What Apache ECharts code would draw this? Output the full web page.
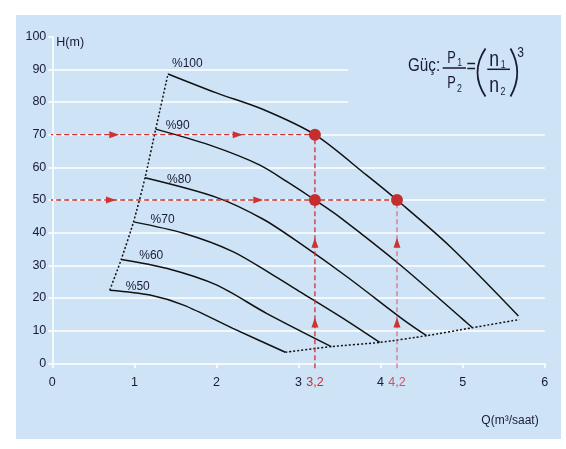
<!DOCTYPE html>
<html>
<head>
<meta charset="UTF-8">
<style>
  body { margin: 0; background: linear-gradient(to right, #eaf2fb 0, #f7fafe 20px, #fff 260px); }
  #panel { position: absolute; left: 16px; top: 15px; width: 545px; height: 424px; background: #cee4f6; }
  #chart { position: absolute; left: 0; top: 0; width: 566px; height: 449px; }
</style>
</head>
<body>
<div id="panel"></div>
<div id="chart"></div>
<script src="https://cdn.jsdelivr.net/npm/echarts@6/dist/echarts.min.js"></script>
<script>
// pump curves, [Q m3/h, H m]
var speedLabels = ['%100', '%90', '%80', '%70', '%60', '%50'];
var curve100 = [[1.41, 88.6], [2.0, 82.8], [2.57, 77.7], [3.2, 70], [3.83, 57.6], [4.2, 50], [4.85, 35.7], [5.68, 14.5]];
var curve90 = [[1.26, 71.7], [1.92, 66.8], [2.53, 60.7], [2.86, 55.6], [3.2, 50], [3.51, 44.6], [4.24, 30.1], [5.01, 13.3], [5.12, 10.9]];
var curve80 = [[1.13, 56.8], [2.0, 50.8], [2.57, 44.1], [3.02, 36.7], [3.59, 26.5], [4.28, 13.3], [4.56, 8.45]];
var curve70 = [[0.99, 43.3], [1.6, 39.8], [2.2, 34.2], [2.69, 27.0], [3.02, 21.9], [3.51, 14.3], [3.99, 6.4]];
var curve60 = [[0.84, 31.8], [1.39, 29.1], [2.0, 24.0], [2.61, 15.3], [3.4, 5.1]];
var curve50 = [[0.7, 22.4], [1.19, 20.9], [1.6, 17.8], [2.2, 10.7], [2.84, 3.4]];
var leftLimit = [[0.7, 22.4], [0.84, 31.8], [0.99, 43.3], [1.13, 56.8], [1.26, 71.7], [1.41, 88.6]];
var bottomLimit = [[2.84, 3.4], [3.4, 5.1], [3.99, 6.4], [4.56, 8.45], [5.12, 10.9], [5.69, 13.4]];

// example reading
var guide70 = [[-0.05, 70], [3.2, 70]];
var guide50 = [[-0.05, 50], [4.2, 50]];
var guideQ32 = [[3.2, -1.5], [3.2, 70]];
var guideQ42 = [[4.2, -1.5], [4.2, 50]];
var arrowsRight = [[0.755, 70], [2.26, 70], [0.715, 50], [2.51, 50]];
var arrowsUp = [[3.2, 36.9], [3.2, 12.5], [4.2, 36.9], [4.2, 12.5]];
var dutyPoints = [[3.2, 70], [3.2, 50], [4.2, 50]];
var refFlows = [3.2, 4.2];
var refLabels = ['3,2', '4,2'];

var gridFull = [10, 20, 30, 40, 50, 60, 70];
var gridShort = [80, 90];
var gridShortEnd = 3.6;

var FONT = '"Liberation Sans", Arial, sans-serif';
var INK = '#1a1a33';
var RED = '#cc3333';

var curves = [curve100, curve90, curve80, curve70, curve60, curve50];
var labelOffsets = [[4, -10], [10, -3], [22, 1.5], [17, -2.5], [18, -3.5], [16, -3]];

var series = [];

var gridLines = [];
gridFull.forEach(function (v) { gridLines.push([{ coord: [0, v] }, { coord: [6, v] }]); });
gridShort.forEach(function (v) { gridLines.push([{ coord: [0, v] }, { coord: [gridShortEnd, v] }]); });
series.push({
    type: 'line', data: [], z: 1, silent: true,
    markLine: {
        silent: true, symbol: 'none', animation: false, z: 1,
        label: { show: false },
        emphasis: { disabled: true },
        lineStyle: { color: '#ffffff', width: 1.5, type: 'solid' },
        data: gridLines
    }
});

curves.forEach(function (c, k) {
    series.push({
        name: speedLabels[k],
        type: 'line',
        smooth: 0.3,
        symbol: 'circle', symbolSize: 0, showSymbol: true, showAllSymbol: true,
        lineStyle: { color: '#111111', width: 1.5 },
        itemStyle: { color: '#111111' },
        data: c.map(function (p, i) {
            if (i !== 0) return p;
            return {
                value: p,
                label: {
                    show: true, formatter: speedLabels[k], position: 'right', distance: 0,
                    offset: labelOffsets[k], color: INK, fontSize: 12, fontFamily: FONT
                }
            };
        }),
        z: 3
    });
});

[leftLimit, bottomLimit].forEach(function (c) {
    series.push({
        type: 'line', data: c, smooth: 0.2, symbol: 'none',
        lineStyle: { color: '#111111', width: 1.5, type: [2, 2] },
        z: 3
    });
});

[guide70, guide50, guideQ32, guideQ42].forEach(function (c, k) {
    series.push({
        type: 'line', data: c, symbol: 'none', clip: false,
        lineStyle: { color: RED, width: 1.3, type: [5, 3], opacity: k === 3 ? 0.6 : 1 },
        z: 4
    });
});

series.push({
    type: 'scatter', data: arrowsRight, symbol: 'triangle', symbolSize: [7, 10],
    symbolRotate: -90, itemStyle: { color: RED, opacity: 1 }, z: 5
});
series.push({
    type: 'scatter', data: arrowsUp, symbol: 'triangle', symbolSize: [7, 10],
    itemStyle: { color: RED, opacity: 1 }, z: 5
});
series.push({
    type: 'scatter', data: dutyPoints, symbolSize: 12,
    itemStyle: { color: '#c42e2e', opacity: 1 }, z: 6
});

function txt(s, x, y, size) {
    return {
        type: 'text', z: 10, x: x, y: y, scaleX: 0.8,
        style: { text: s, x: 0, y: 0, fill: INK, fontSize: size, fontFamily: FONT,
                 textAlign: 'left', textVerticalAlign: 'middle', align: 'left', verticalAlign: 'middle' }
    };
}
function bar(x1, x2, y) {
    return { type: 'line', z: 10, shape: { x1: x1, y1: y, x2: x2, y2: y }, style: { stroke: INK, lineWidth: 1.5 } };
}
function paren(x, cpx) {
    return { type: 'bezierCurve', z: 10, shape: { x1: x, y1: 48.5, x2: x, y2: 96.5, cpx1: cpx, cpy1: 72.5 },
             style: { stroke: INK, lineWidth: 1.8, fill: null } };
}

var myChart = echarts.init(document.getElementById('chart'));
var option = {
    animation: false,
    grid: { left: 52.3, right: 21.3, top: 36.7, bottom: 85.7 },
    xAxis: [
        {
            type: 'value', min: 0, max: 6, interval: 1,
            axisLine: { show: true, lineStyle: { color: '#ffffff', width: 1.5 } },
            axisTick: { show: true, length: 5, lineStyle: { color: '#ffffff', width: 1.5 } },
            splitLine: { show: false },
            axisLabel: { color: INK, fontSize: 12.5, fontFamily: FONT, margin: 13 },
            name: 'Q(m³/saat)', nameLocation: 'end', nameGap: -6,
            nameTextStyle: { color: INK, fontSize: 12, fontFamily: FONT, align: 'right', verticalAlign: 'top', padding: [51, 0, 0, 0] }
        },
        {
            type: 'value', min: 0, max: 6, position: 'bottom',
            axisLine: { show: false }, axisTick: { show: false }, splitLine: { show: false },
            axisLabel: {
                customValues: refFlows, margin: 13, fontSize: 12.5, fontFamily: FONT,
                formatter: function (v) {
                    var i = refFlows.indexOf(v);
                    return '{r' + i + '|' + refLabels[i] + '}';
                },
                rich: {
                    r0: { color: '#cc2a35', fontSize: 12.5, fontFamily: FONT },
                    r1: { color: '#d4505c', fontSize: 12.5, fontFamily: FONT }
                }
            }
        }
    ],
    yAxis: {
        type: 'value', min: 0, max: 100, interval: 10,
        axisLine: { show: true, lineStyle: { color: '#ffffff', width: 1.5 } },
        axisTick: { show: true, length: 4, lineStyle: { color: '#ffffff', width: 1.5 } },
        splitLine: { show: false },
        axisLabel: { color: INK, fontSize: 12.5, fontFamily: FONT, margin: 6 },
        name: 'H(m)', nameLocation: 'end', nameGap: -6,
        nameTextStyle: { color: INK, fontSize: 12.5, fontFamily: FONT, align: 'left', verticalAlign: 'middle', padding: [0, 0, 0, 4] }
    },
    graphic: [
        txt('Güç:', 408, 66, 19),
        txt('P', 447.3, 58.4, 16), txt('1', 457.3, 62.5, 11),
        bar(442.7, 466, 68),
        txt('P', 447.3, 83.3, 16), txt('2', 457, 89.2, 11),
        txt('=', 466.5, 67, 20),
        paren(485.5, 469.5),
        txt('n', 489.3, 60, 22), txt('1', 500.7, 65, 11),
        bar(487.3, 510, 69.3),
        txt('n', 489.3, 86, 22), txt('2', 500.5, 92, 11),
        paren(510.5, 524),
        txt('3', 517.3, 52.8, 15)
    ],
    series: series
};
myChart.setOption(option);
</script>
</body>
</html>
